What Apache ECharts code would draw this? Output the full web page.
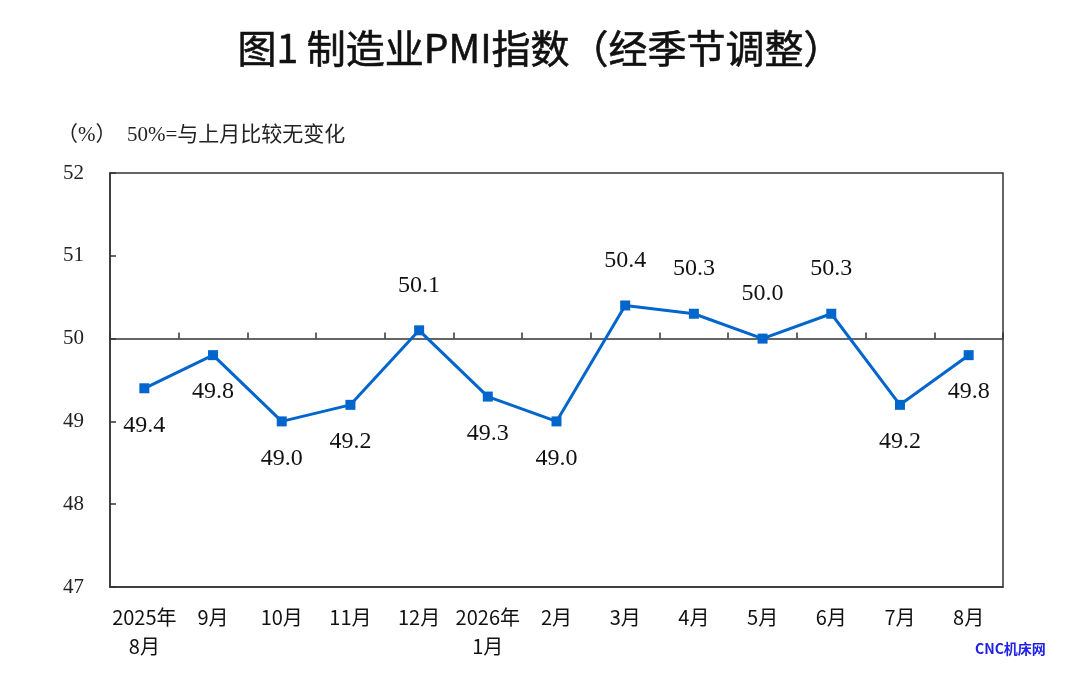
<!DOCTYPE html>
<html>
<head>
<meta charset="utf-8">
<script src="https://cdn.jsdelivr.net/npm/echarts@6/dist/echarts.min.js"></script>
<style>
  html, body { margin: 0; padding: 0; background: #fff; }
  #main { width: 1080px; height: 680px; }
</style>
</head>
<body>
<div id="main"></div>
<script>
// 月份
const months = ['2025年\n8月', '9月', '10月', '11月', '12月', '2026年\n1月', '2月', '3月', '4月', '5月', '6月', '7月', '8月']
// 制造业PMI（经季节调整）
const pmi = [49.4, 49.8, 49.0, 49.2, 50.1, 49.3, 49.0, 50.4, 50.3, 50.0, 50.3, 49.2, 49.8]
// 纵轴刻度
const yMin = 47
const yMax = 52
const baseLine = 50

const chart = echarts.init(document.getElementById('main'))

const gridTop = 173
const gridBottom = 93
const gridHeight = 680 - gridTop - gridBottom

let option = {
  backgroundColor: '#fff',
  animation: false,
  title: {
    text: '图1 制造业PMI指数（经季节调整）',
    left: 'center',
    top: 24,
    textStyle: {
      fontFamily: 'Noto Sans CJK SC',
      fontWeight: 'normal',
      fontSize: 39,
      color: '#111',
      textBorderColor: '#111',
      textBorderWidth: 0.6
    }
  },
  graphic: [{
    type: 'text',
    left: 57,
    top: 125,
    style: {
      text: '（%）  50%=与上月比较无变化',
      font: '21px "Liberation Serif", "Noto Sans CJK SC"',
      fill: '#222'
    }
  }, {
    type: 'text',
    left: 975,
    top: 642,
    style: {
      text: 'CNC机床网',
      font: 'bold 14px "Noto Sans CJK SC"',
      fill: '#1f22e6'
    }
  }],
  grid: {
    left: 110,
    right: 77,
    top: gridTop,
    bottom: gridBottom,
    show: true,
    borderColor: '#333',
    borderWidth: 1.5,
    backgroundColor: 'transparent'
  },
  xAxis: [{
    type: 'category',
    data: months,
    boundaryGap: true,
    axisLine: { lineStyle: { color: '#333', width: 1.5 } },
    axisTick: { show: false },
    axisLabel: {
      interval: 0,
      margin: 16,
      fontFamily: 'Noto Sans CJK SC',
      fontSize: 20,
      lineHeight: 29,
      color: '#111'
    }
  }, {
    // 50 基准线
    type: 'category',
    data: months,
    position: 'bottom',
    offset: -gridHeight * (baseLine - yMin) / (yMax - yMin),
    boundaryGap: true,
    axisLine: { lineStyle: { color: '#333', width: 1.5 } },
    axisTick: { show: true, inside: true, interval: 0, length: 6, lineStyle: { color: '#333', width: 1.5 } },
    axisLabel: { show: false }
  }],
  yAxis: {
    type: 'value',
    min: yMin,
    max: yMax,
    interval: 1,
    splitLine: { show: false },
    axisLine: { show: true, lineStyle: { color: '#333', width: 1.5 } },
    axisTick: { show: true, inside: true, length: 6, lineStyle: { color: '#333', width: 1.5 } },
    axisLabel: {
      margin: 26,
      fontFamily: 'Liberation Serif',
      fontSize: 21,
      color: '#222'
    }
  },
  series: [{
    type: 'line',
    data: pmi.map(v => ({
      value: v,
      label: {
        position: v >= baseLine ? 'top' : 'bottom',
        distance: v >= baseLine ? 28 : 20
      }
    })),
    symbol: 'rect',
    symbolSize: 10,
    lineStyle: { color: '#0066cc', width: 3 },
    itemStyle: { color: '#0066cc' },
    label: {
      show: true,
      formatter: p => p.value.toFixed(1),
      fontFamily: 'Liberation Serif',
      fontSize: 24,
      color: '#111'
    }
  }]
}

chart.setOption(option)
</script>
</body>
</html>
